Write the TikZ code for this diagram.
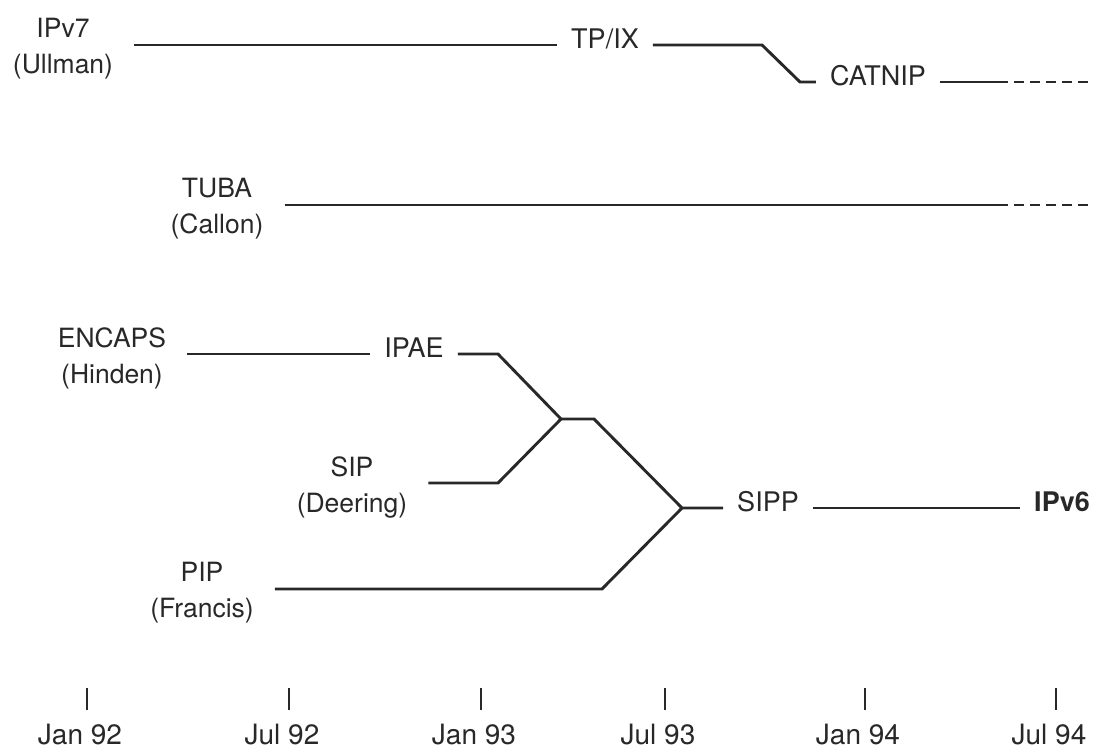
\documentclass[tikz,border=0pt]{standalone}
\usepackage{fontspec}
\setmainfont{TeX Gyre Heros}
\usetikzlibrary{positioning}
\definecolor{myink}{RGB}{40,40,40}

\tikzset{
 who/.style={font=\fontsize{26.5}{36}\selectfont, align=center, inner ysep=0pt, inner xsep=21pt, text=myink},
 stage/.style={font=\fontsize{27}{30}\selectfont, text height=0.72em, text depth=0pt, inner ysep=0pt, inner xsep=14pt, text=myink},
 date/.style={font=\fontsize{28}{30}\selectfont, inner sep=0pt, text=myink},
 track/.style={line width=2.9pt, color=myink},
 later/.style={track, dash pattern=on 10pt off 6pt},
 tick/.style={line width=1.9pt, color=myink}
}

\begin{document}
\begin{tikzpicture}[x=1pt, y=-1pt]
\useasboundingbox (0,0) rectangle (1097,751);

 %labels:
 \node[who] (ipv7) at (63,49) {IPv7\\(Ullman)};
 \node[who] (tuba) at (217,209) {TUBA\\(Callon)};
 \node[who] (encaps) at (112,358) {ENCAPS\\(Hinden)};
 \node[who] (sip) at (352,487) {SIP\\(Deering)};
 \node[who] (pip) at (202,593) {PIP\\(Francis)};

 \node[stage] (tpix) at (605,45) {TP/IX};
 \node[stage] (catnip) at (878,82) {CATNIP};
 \node[stage] (ipae) at (414,354) {IPAE};
 \node[stage] (sipp) at (768,508) {SIPP};
 \node[stage, font=\fontsize{27}{30}\selectfont\bfseries] (ipv6) at (1062,508) {IPv6};

 %bends
 \coordinate (k1) at (762,45);
 \coordinate (k2) at (800,82);
 \coordinate (c1) at (998,82);
 \coordinate (c2) at (1093,82);
 \coordinate (t1) at (998,205);
 \coordinate (t2) at (1093,205);
 \coordinate (m1) at (498,354);
 \coordinate (m2) at (561,419);
 \coordinate (m3) at (594,419);
 \coordinate (m4) at (682,508);
 \coordinate (s1) at (498,483);
 \coordinate (p1) at (602,589);

 %tracks
 \draw[track] (ipv7.east |- tpix.west) -- (tpix.west);
 \draw[track] (tpix.east) -- (k1) -- (k2) -- (catnip.west);
 \draw[track] (catnip.east) -- (c1);
 \draw[later] (c1) -- (c2);

 \draw[track] (tuba.east |- t1) -- (t1);
 \draw[later] (t1) -- (t2);

 \draw[track] (encaps.east |- ipae.west) -- (ipae.west);
 \draw[track] (ipae.east) -- (m1) -- (m2) -- (m3) -- (m4) -- (sipp.west);
 \draw[track] (sip.east |- s1) -- (s1) -- (m2);
 \draw[track] (pip.east |- p1) -- (p1) -- (m4);
 \draw[track] (sipp.east) -- (ipv6.west);

 %time axis
 \foreach \x/\d [count=\i] in {87/Jan 92, 289/Jul 92, 481/Jan 93, 665/Jul 93, 865/Jan 94, 1056/Jul 94}{
  \draw[tick] (\x,688) -- (\x,710);
  \node[date] (d\i) at (\x-7,735) {\d};
 }
\end{tikzpicture}
\end{document}
